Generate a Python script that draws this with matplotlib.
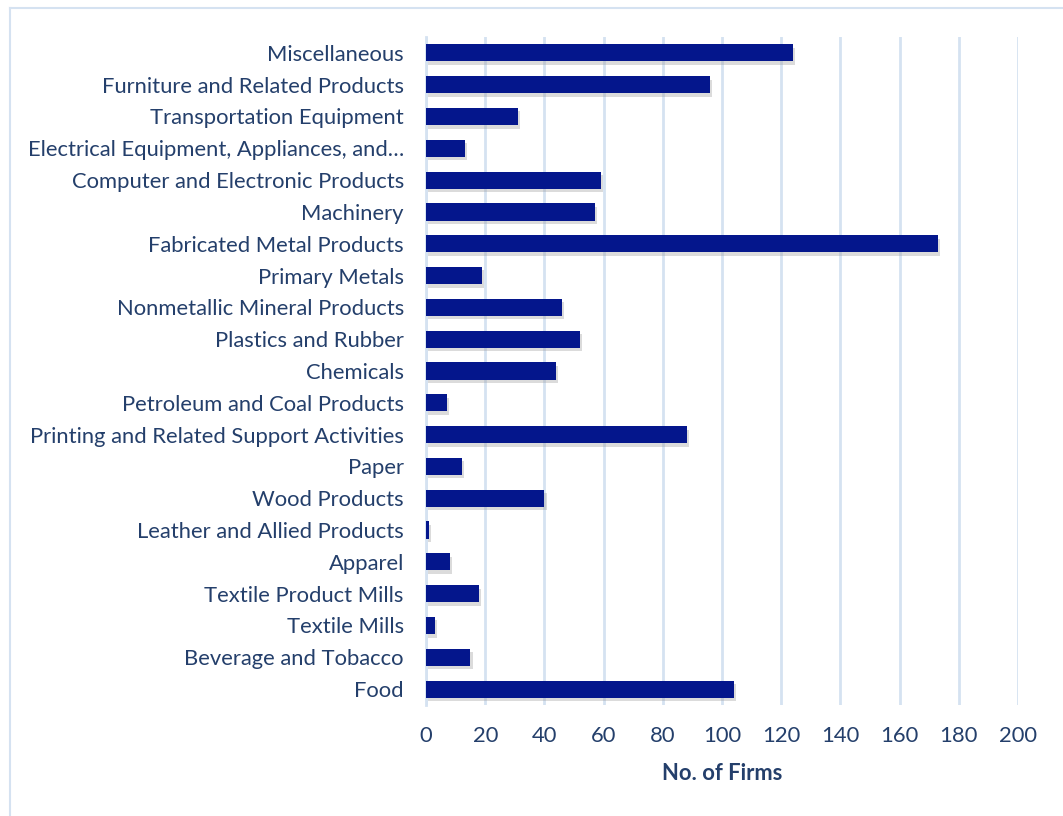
import matplotlib.pyplot as plt
import matplotlib.patheffects as pe
from matplotlib.lines import Line2D

categories = [
    'Miscellaneous',
    'Furniture and Related Products',
    'Transportation Equipment',
    'Electrical Equipment, Appliances, and…',
    'Computer and Electronic Products',
    'Machinery',
    'Fabricated Metal Products',
    'Primary Metals',
    'Nonmetallic Mineral Products',
    'Plastics and Rubber',
    'Chemicals',
    'Petroleum and Coal Products',
    'Printing and Related Support Activities',
    'Paper',
    'Wood Products',
    'Leather and Allied Products',
    'Apparel',
    'Textile Product Mills',
    'Textile Mills',
    'Beverage and Tobacco',
    'Food',
]
firms = [124, 96, 31, 13, 59, 57, 173, 19, 46, 52, 44, 7, 88, 12, 40, 1, 8, 18, 3, 15, 104]
xticks = list(range(0, 201, 20))

text_col = '#243f6b'
grid_col = '#d5e2f1'
bar_col = '#04168c'

plt.rcParams['font.family'] = ['Lato', 'DejaVu Sans']

fig = plt.figure(figsize=(10.63, 8.16), dpi=100)
ax = fig.add_axes([0.4008, 0.136, 0.5569, 0.8187])

ypos = list(range(len(categories)))
bars = ax.barh(ypos, firms, height=0.54, color=bar_col, zorder=3)
for b in bars:
    b.set_path_effects([pe.SimplePatchShadow(offset=(1.5, -2.5), shadow_rgbFace='#9a9a9a', alpha=0.35),
                        pe.Normal()])

ax.set_ylim(len(categories) - 0.5, -0.5)
ax.set_xlim(0, 200)
ax.set_yticks(ypos)
ax.set_yticklabels(categories)
ax.set_xticks(xticks)

ax.grid(axis='x', color=grid_col, linewidth=2, zorder=0)
for s in ['top', 'right', 'bottom']:
    ax.spines[s].set_visible(False)
ax.spines['left'].set_color(grid_col)
ax.spines['left'].set_linewidth(2)

ax.tick_params(axis='both', length=0, labelsize=15.8, colors=text_col)
ax.tick_params(axis='y', pad=16)
ax.tick_params(axis='x', pad=15)
ax.set_xlabel('No. of Firms', fontsize=15.8, fontweight='bold', color=text_col, labelpad=12)

# thin frame around the chart area
fig.add_artist(Line2D([10 / 1063, 1062 / 1063], [1 - 8 / 816, 1 - 8 / 816],
                      transform=fig.transFigure, color=grid_col, linewidth=1.5))
fig.add_artist(Line2D([10 / 1063, 10 / 1063], [0, 1 - 8 / 816],
                      transform=fig.transFigure, color=grid_col, linewidth=1.5))

fig.savefig('out.png', dpi=100)
